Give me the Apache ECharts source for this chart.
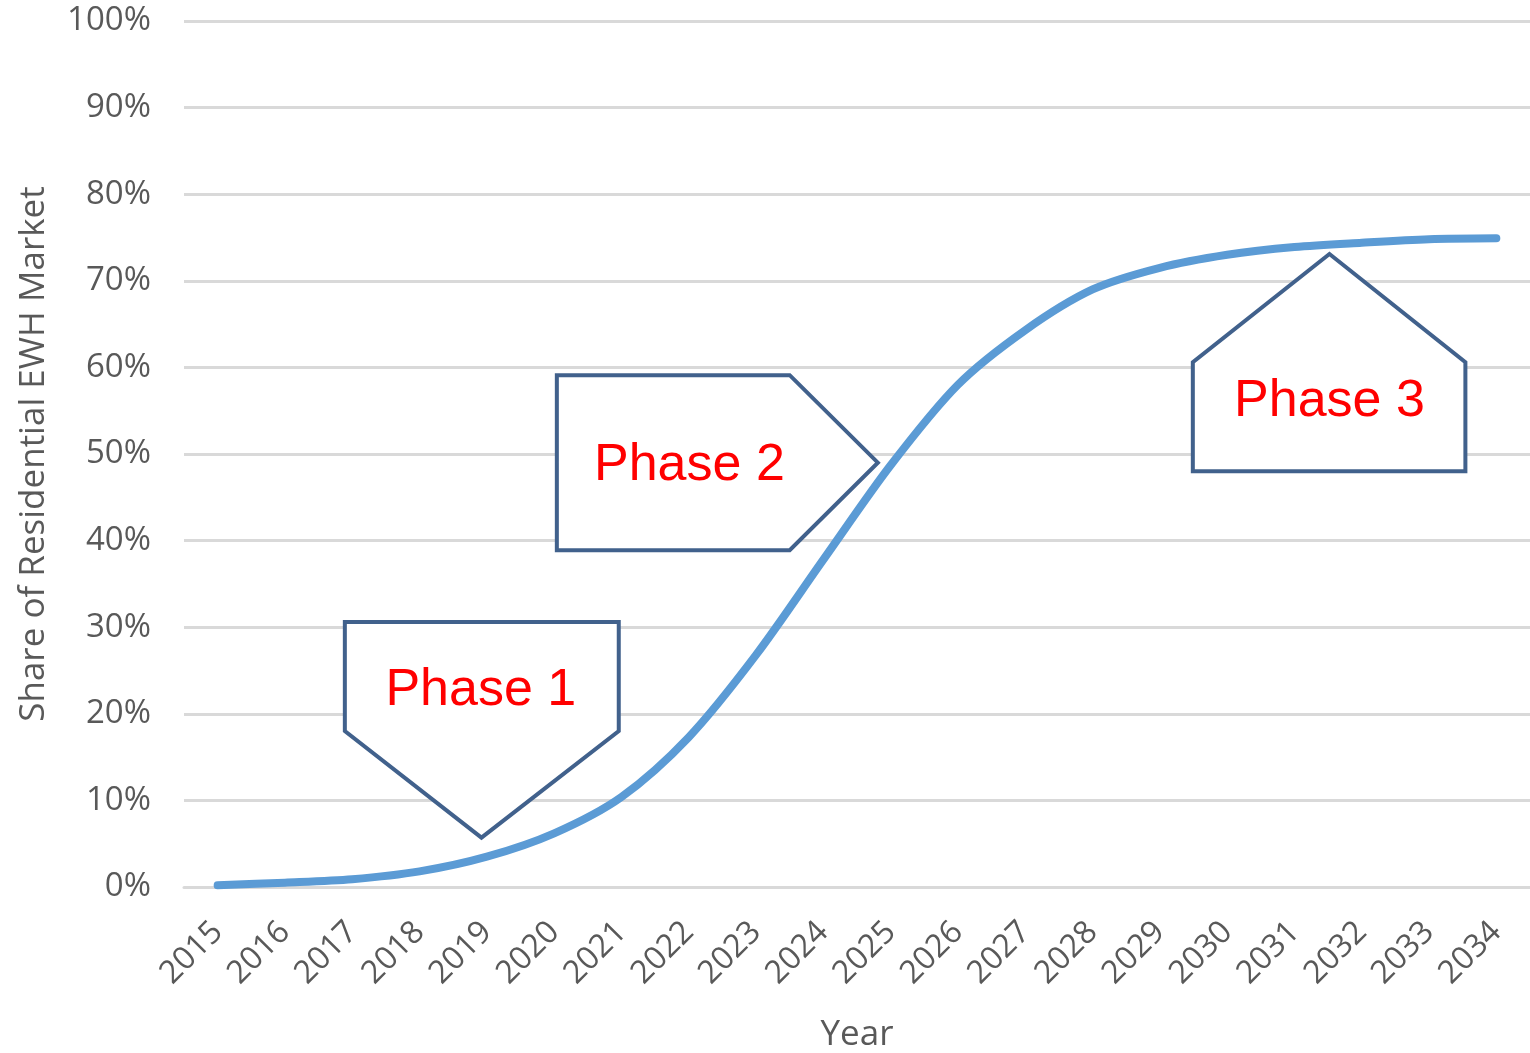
<!DOCTYPE html>
<html>
<head>
<meta charset="utf-8">
<title>Share of Residential EWH Market</title>
<script src="https://cdn.jsdelivr.net/npm/echarts@6/dist/echarts.min.js"></script>
<style>
    html, body { margin: 0; padding: 0; background: #ffffff; }
    #main { width: 1530px; height: 1053px; }
</style>
</head>
<body>
<div id="main"></div>
<script>
var years = ['2015', '2016', '2017', '2018', '2019', '2020', '2021', '2022', '2023', '2024',
    '2025', '2026', '2027', '2028', '2029', '2030', '2031', '2032', '2033', '2034'];
var share = [0.2, 0.5, 0.9, 1.8, 3.5, 6.2, 10.4, 17.3, 26.8, 37.8,
    48.7, 58.0, 64.3, 69.0, 71.5, 73.0, 73.9, 74.4, 74.8, 74.9];
var yTicks = [0, 10, 20, 30, 40, 50, 60, 70, 80, 90, 100];

// callout outlines in data units: [category index, share %]
var phaseNames = ['Phase 1', 'Phase 2', 'Phase 3'];
var phaseShapes = [
    [[1.89, 30.6], [5.96, 30.6], [5.96, 18.0], [3.92, 5.7], [1.89, 18.0]],
    [[5.04, 59.1], [8.50, 59.1], [9.81, 49.0], [8.50, 38.9], [5.04, 38.9]],
    [[14.49, 48.0], [14.49, 60.6], [16.52, 73.1], [18.54, 60.6], [18.54, 48.0]]
];
var phaseText = [[3.91, 22.7], [7.01, 48.6], [16.52, 56.1]];

var chart = echarts.init(document.getElementById('main'));

var option = {
    backgroundColor: '#ffffff',
    animation: false,
    grid: {
        left: 184,
        right: 0,
        top: 21,
        bottom: 166,
        containLabel: false,
        outerBoundsMode: 'none'
    },
    xAxis: {
        type: 'category',
        data: years,
        boundaryGap: true,
        name: 'Year',
        nameLocation: 'middle',
        nameGap: 131,
        nameTextStyle: { fontFamily: 'Open Sans', fontSize: 35, color: '#595959' },
        axisLine: { show: true, lineStyle: { color: '#d9d9d9', width: 3 } },
        axisTick: { show: false },
        axisLabel: {
            rotate: 45,
            margin: 40,
            interval: 0,
            fontFamily: 'Open Sans',
            fontSize: 32,
            color: '#595959'
        }
    },
    yAxis: {
        type: 'value',
        min: 0,
        max: 100,
        interval: 10,
        name: 'Share of Residential EWH Market',
        nameLocation: 'middle',
        nameGap: 132,
        nameTextStyle: { fontFamily: 'Open Sans', fontSize: 35, color: '#595959' },
        axisLine: { show: false },
        axisTick: { show: false },
        axisLabel: {
            margin: 33,
            fontFamily: 'Open Sans',
            fontSize: 33,
            color: '#595959',
            formatter: function (v) {
                return yTicks.indexOf(v) >= 0 ? v + '%' : '';
            }
        },
        splitLine: { lineStyle: { color: '#d9d9d9', width: 3 } }
    },
    series: [{
        name: 'Share',
        type: 'line',
        data: share,
        smooth: 0.3,
        showSymbol: false,
        symbol: 'none',
        lineStyle: { color: '#5b9bd5', width: 8, cap: 'round', join: 'round' },
        z: 2
    }]
};
chart.setOption(option);

// map data units to pixels, allowing fractional category positions
function toPx(p) {
    var a = chart.convertToPixel({ gridIndex: 0 }, [0, 0]);
    var b = chart.convertToPixel({ gridIndex: 0 }, [1, 100]);
    return [a[0] + (b[0] - a[0]) * p[0], a[1] + (b[1] - a[1]) * p[1] / 100];
}

var elements = [];
phaseShapes.forEach(function (shape, i) {
    elements.push({
        type: 'polygon',
        z: 10,
        shape: { points: shape.map(toPx) },
        style: { fill: '#ffffff', stroke: '#41618c', lineWidth: 4, lineJoin: 'miter' }
    });
    var c = toPx(phaseText[i]);
    elements.push({
        type: 'text',
        z: 11,
        x: c[0],
        y: c[1],
        style: {
            text: phaseNames[i],
            fill: '#ff0000',
            font: '52px "Liberation Sans", Arial, sans-serif',
            align: 'center',
            verticalAlign: 'middle'
        }
    });
});
chart.setOption({ graphic: { elements: elements } });
</script>
</body>
</html>
